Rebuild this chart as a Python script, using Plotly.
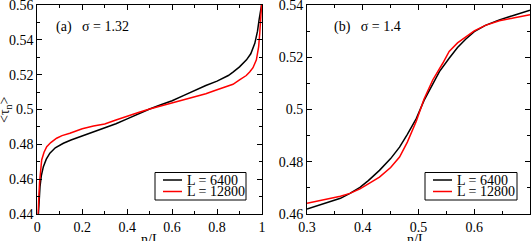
import plotly.graph_objects as go

# Panel (a): sigma = 1.32
a_x_6400 = [0.005, 0.008, 0.012, 0.018, 0.027, 0.04, 0.056, 0.08, 0.116, 0.15, 0.19, 0.25, 0.3, 0.35, 0.4,
            0.45, 0.5, 0.55, 0.6, 0.65, 0.7, 0.75, 0.8, 0.85, 0.871, 0.9, 0.931, 0.95, 0.968, 0.98, 0.987,
            0.994, 0.998]
a_y_6400 = [0.44, 0.448, 0.4557, 0.462, 0.4672, 0.4715, 0.4749, 0.478, 0.4806, 0.4825, 0.4844, 0.4868,
            0.4895, 0.4918, 0.4946, 0.4975, 0.5003, 0.5027, 0.505, 0.508, 0.511, 0.5138, 0.5163, 0.5195,
            0.5215, 0.5245, 0.5285, 0.532, 0.538, 0.545, 0.5515, 0.5585, 0.56]
a_x_12800 = [0.003, 0.006, 0.01, 0.0195, 0.03, 0.042, 0.06, 0.086, 0.11, 0.145, 0.2, 0.25, 0.3, 0.35, 0.4,
             0.45, 0.5, 0.55, 0.6, 0.65, 0.7, 0.75, 0.8, 0.85, 0.871, 0.9, 0.93, 0.945, 0.96, 0.975, 0.985,
             0.99, 0.995, 0.998]
a_y_12800 = [0.44, 0.448, 0.458, 0.471, 0.4755, 0.4787, 0.481, 0.4835, 0.485, 0.4864, 0.4889, 0.4905,
             0.4917, 0.494, 0.4963, 0.4983, 0.5003, 0.502, 0.5037, 0.5053, 0.507, 0.509, 0.5113, 0.5135,
             0.5145, 0.517, 0.5195, 0.5215, 0.524, 0.5285, 0.536, 0.5438, 0.553, 0.56]

# Panel (b): sigma = 1.4
b_x_6400 = [0.3, 0.32, 0.341, 0.36, 0.377, 0.395, 0.41, 0.43, 0.45, 0.466, 0.48, 0.496, 0.51, 0.5255,
            0.5375, 0.555, 0.57, 0.585, 0.6, 0.62, 0.645, 0.67, 0.7]
b_y_6400 = [0.4619, 0.4632, 0.4645, 0.466, 0.4679, 0.4702, 0.4728, 0.4767, 0.4812, 0.4856, 0.4905,
            0.4965, 0.5035, 0.5095, 0.5145, 0.5196, 0.5237, 0.527, 0.5298, 0.5322, 0.5343, 0.536, 0.538]
b_x_12800 = [0.3, 0.32, 0.341, 0.36, 0.377, 0.395, 0.41, 0.43, 0.45, 0.466, 0.48, 0.496, 0.51, 0.5255,
             0.5435, 0.555, 0.57, 0.585, 0.6, 0.62, 0.645, 0.67, 0.7]
b_y_12800 = [0.4641, 0.465, 0.4658, 0.4668, 0.4679, 0.4696, 0.4715, 0.4741, 0.4778, 0.4818, 0.4875,
             0.4955, 0.504, 0.5113, 0.5177, 0.5222, 0.5255, 0.5279, 0.5301, 0.5322, 0.534, 0.535, 0.5363]

names = ["L = 6400", "L = 12800"]
colors = ["#000000", "#ff0000"]
panel_labels = ["(a)\u00a0\u00a0\u00a0σ = 1.32", "(b)\u00a0\u00a0\u00a0σ = 1.4"]
x_title = "n/L"
y_title = "&lt;τ<sub>n</sub>&gt;"
a_xticks = [0, 0.2, 0.4, 0.6, 0.8, 1]
a_yticks = [0.44, 0.46, 0.48, 0.5, 0.52, 0.54, 0.56]
b_xticks = [0.3, 0.4, 0.5, 0.6]
b_yticks = [0.46, 0.48, 0.5, 0.52, 0.54]

FONT = "Liberation Serif, Times New Roman, serif"
W, H = 531, 241

fig = go.Figure()
series = [
    (a_x_6400, a_y_6400, 0, "x", "y"),
    (a_x_12800, a_y_12800, 1, "x", "y"),
    (b_x_6400, b_y_6400, 0, "x2", "y2"),
    (b_x_12800, b_y_12800, 1, "x2", "y2"),
]
for xs, ys, k, xa, ya in series:
    fig.add_trace(go.Scatter(x=xs, y=ys, mode="lines", name=names[k], showlegend=False,
                             line=dict(color=colors[k], width=1.5), xaxis=xa, yaxis=ya))

ytop = 1 - 5 / H
ybot = 1 - 214 / H

common = dict(showline=True, linecolor="black", linewidth=1, mirror="allticks", ticks="inside",
              ticklen=5, tickwidth=1, tickcolor="black", showgrid=False, zeroline=False,
              automargin=False, ticklabeloverflow="allow",
              tickfont=dict(family=FONT, size=14, color="black"))

shapes = []
annotations = []
# Legend boxes
for (bx0, bx1) in [(155, 246), (425, 517)]:
    shapes.append(dict(type="rect", xref="paper", yref="paper",
                       x0=bx0 / W, x1=bx1 / W, y0=1 - 200 / H, y1=1 - 172.5 / H,
                       line=dict(color="black", width=1), fillcolor="white", layer="above"))
    for k, ly in enumerate([180, 191.5]):
        shapes.append(dict(type="line", xref="paper", yref="paper",
                           x0=(bx0 + 8) / W, x1=(bx0 + 27) / W, y0=1 - ly / H, y1=1 - ly / H,
                           line=dict(color=colors[k], width=1.5), layer="above"))
        annotations.append(dict(text=names[k], x=(bx0 + 30) / W, y=1 - ly / H, xref="paper",
                                yref="paper", xanchor="left", yanchor="middle", showarrow=False,
                                font=dict(family=FONT, size=14, color="black")))

# Panel labels
annotations.append(dict(text=panel_labels[0], x=54 / W, y=1 - 27 / H, xref="paper", yref="paper",
                        xanchor="left", yanchor="middle", showarrow=False,
                        font=dict(family=FONT, size=14, color="black")))
annotations.append(dict(text=panel_labels[1], x=332 / W, y=1 - 27 / H, xref="paper", yref="paper",
                        xanchor="left", yanchor="middle", showarrow=False,
                        font=dict(family=FONT, size=14, color="black")))
# Axis titles
for cx in [150, 416]:
    annotations.append(dict(text=x_title, x=cx / W, y=1 - 229.5 / H, xref="paper", yref="paper",
                            xanchor="center", yanchor="top", showarrow=False,
                            font=dict(family=FONT, size=14, color="black")))
annotations.append(dict(text=y_title, x=6 / W, y=1 - 110 / H, xref="paper", yref="paper",
                        xanchor="center", yanchor="middle", showarrow=False, textangle=-90,
                        font=dict(family=FONT, size=14, color="black")))

fig.update_layout(
    width=W, height=H, margin=dict(l=0, r=0, t=0, b=0, autoexpand=False),
    paper_bgcolor="white", plot_bgcolor="white", showlegend=False,
    font=dict(family=FONT, size=14, color="black"),
    xaxis=dict(domain=[37.3 / W, 262 / W], range=[0, 1], tickvals=a_xticks, anchor="y",
               minor=dict(dtick=0.1, ticks="inside", ticklen=3, tickcolor="black"), **common),
    yaxis=dict(domain=[ybot, ytop], range=[0.44, 0.56], tickvals=a_yticks, anchor="x",
               minor=dict(dtick=0.01, ticks="inside", ticklen=3, tickcolor="black"), **common),
    xaxis2=dict(domain=[307 / W, 530 / W], range=[0.3, 0.7], tickvals=b_xticks, anchor="y2",
                minor=dict(dtick=0.05, ticks="inside", ticklen=3, tickcolor="black"), **common),
    yaxis2=dict(domain=[ybot, ytop], range=[0.46, 0.54], tickvals=b_yticks, anchor="x2",
                minor=dict(dtick=0.01, ticks="inside", ticklen=3, tickcolor="black"), **common),
    shapes=shapes,
    annotations=annotations,
)

fig.write_html("out.html", config={"displayModeBar": False},
               post_script="document.body.style.margin='0';document.body.style.overflow='hidden';")
